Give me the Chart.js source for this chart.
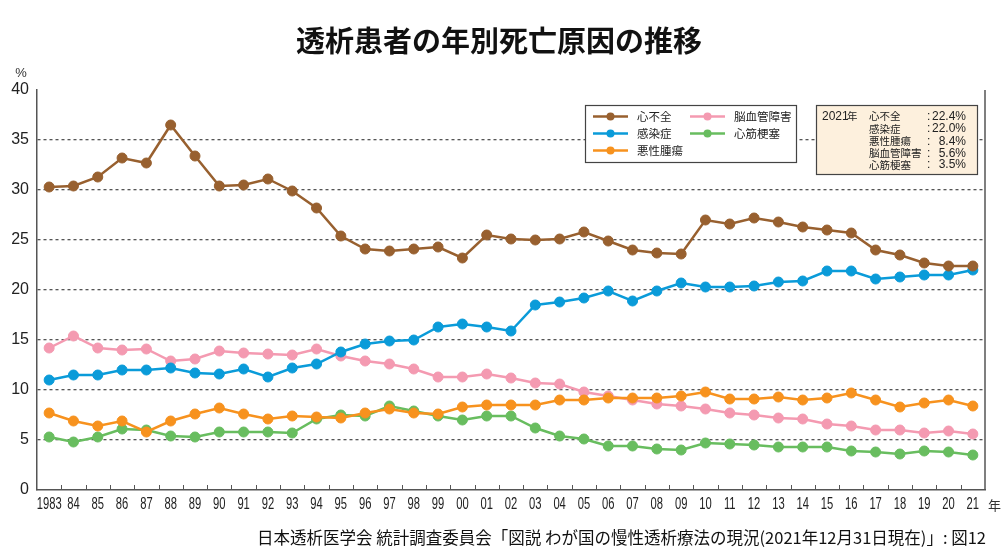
<!DOCTYPE html>
<html><head><meta charset="utf-8">
<script src="https://cdn.jsdelivr.net/npm/chart.js@4"></script>
<style>html,body{margin:0;padding:0;background:#fff}#wrap{width:1006px;height:559px;position:relative}</style>
</head><body><div id="wrap"><canvas id="c" width="1006" height="559"></canvas></div>
<script>
const years = ['1983','84','85','86','87','88','89','90','91','92','93','94','95','96','97','98','99','00','01','02','03','04','05','06','07','08','09','10','11','12','13','14','15','16','17','18','19','20','21'];
const heartFailure = [30.3,30.4,31.3,33.2,32.7,36.5,33.4,30.4,30.5,31.1,29.9,28.2,25.4,24.1,23.9,24.1,24.3,23.2,25.5,25.1,25.0,25.1,25.8,24.9,24.0,23.7,23.6,27.0,26.6,27.2,26.8,26.3,26.0,25.7,24.0,23.5,22.7,22.4,22.4];
const infection = [11.0,11.5,11.5,12.0,12.0,12.2,11.7,11.6,12.1,11.3,12.2,12.6,13.8,14.6,14.9,15.0,16.3,16.6,16.3,15.9,18.5,18.8,19.2,19.9,18.9,19.9,20.7,20.3,20.3,20.4,20.8,20.9,21.9,21.9,21.1,21.3,21.5,21.5,22.0];
const cancer = [7.7,6.9,6.4,6.9,5.8,6.9,7.6,8.2,7.6,7.1,7.4,7.3,7.2,7.7,8.1,7.7,7.6,8.3,8.5,8.5,8.5,9.0,9.0,9.2,9.2,9.2,9.4,9.8,9.1,9.1,9.3,9.0,9.2,9.7,9.0,8.3,8.7,9.0,8.4];
const stroke = [14.2,15.4,14.2,14.0,14.1,12.9,13.1,13.9,13.7,13.6,13.5,14.1,13.4,12.9,12.6,12.1,11.3,11.3,11.6,11.2,10.7,10.6,9.8,9.4,9.0,8.6,8.4,8.1,7.7,7.5,7.2,7.1,6.6,6.4,6.0,6.0,5.7,5.9,5.6];
const infarction = [5.3,4.8,5.3,6.1,6.0,5.4,5.3,5.8,5.8,5.8,5.7,7.1,7.5,7.4,8.4,7.9,7.4,7.0,7.4,7.4,6.2,5.4,5.1,4.4,4.4,4.1,4.0,4.7,4.6,4.5,4.3,4.3,4.3,3.9,3.8,3.6,3.9,3.8,3.5];
const yTicks = [0,5,10,15,20,25,30,35,40];
const seriesNames = ['心不全','感染症','悪性腫瘍','脳血管障害','心筋梗塞'];
const seriesColors = ['#98602f','#0a9bd9','#f7921e','#f49ab1','#68bd5f'];
const summary2021 = [['心不全','22.4%'],['感染症','22.0%'],['悪性腫瘍','8.4%'],['脳血管障害','5.6%'],['心筋梗塞','3.5%']];
const titleText = '透析患者の年別死亡原因の推移';
const sourceText = '日本透析医学会 統計調査委員会「図説 わが国の慢性透析療法の現況(2021年12月31日現在)」: 図12';

const seriesData = [heartFailure, infection, cancer, stroke, infarction];
const JP = '"Noto Sans CJK JP", sans-serif';
const LS = '"Liberation Sans", sans-serif';

const decor = {
  id: 'decor',
  beforeDraw(chart) {
    const ctx = chart.ctx;
    ctx.save();
    ctx.fillStyle = '#fff';
    ctx.fillRect(0, 0, chart.width, chart.height);
    ctx.restore();
  },
  afterDraw(chart) {
    const ctx = chart.ctx, a = chart.chartArea, xs = chart.scales.x;
    ctx.save();
    // right border
    ctx.strokeStyle = '#555'; ctx.lineWidth = 1.5;
    ctx.beginPath(); ctx.moveTo(a.right, a.top); ctx.lineTo(a.right, a.bottom); ctx.stroke();
    // x tick marks (between categories, pointing up)
    ctx.lineWidth = 1;
    for (let i = 0; i < years.length - 1; i++) {
      const x = Math.round((xs.getPixelForValue(i) + xs.getPixelForValue(i + 1)) / 2) + 0.5;
      ctx.beginPath(); ctx.moveTo(x, a.bottom); ctx.lineTo(x, a.bottom - 5); ctx.stroke();
    }
    // x labels (condensed), positioned by the category scale
    ctx.fillStyle = '#222';
    ctx.font = '16px ' + LS;
    ctx.textAlign = 'center'; ctx.textBaseline = 'middle';
    years.forEach((lab, i) => {
      const x = xs.getPixelForValue(i);
      ctx.save();
      ctx.translate(x, a.bottom + 15);
      ctx.scale(0.7, 1);
      ctx.fillText(lab, 0, 0);
      ctx.restore();
    });
    // title
    ctx.fillStyle = '#111';
    ctx.font = 'bold 29px ' + JP;
    ctx.textAlign = 'center'; ctx.textBaseline = 'middle';
    ctx.fillText(titleText, 499, 41);
    // axis unit labels
    ctx.fillStyle = '#333';
    ctx.font = '13px ' + LS;
    ctx.fillText('%', 21, 73);
    ctx.font = '13px ' + JP;
    ctx.textAlign = 'left';
    ctx.fillText('年', 988, 505);
    // source
    ctx.fillStyle = '#111';
    ctx.font = '16.5px ' + JP;
    ctx.textAlign = 'right';
    ctx.fillText(sourceText, 986, 538);

    // legend box
    ctx.fillStyle = '#fff'; ctx.strokeStyle = '#444'; ctx.lineWidth = 1.2;
    ctx.fillRect(585, 105, 212, 57); ctx.strokeRect(585.5, 105.5, 211, 57);
    const legPos = [[593, 116.5], [593, 133.5], [593, 150.5], [690, 116.5], [690, 133.5]];
    ctx.font = '11.5px ' + JP; ctx.textAlign = 'left'; ctx.textBaseline = 'middle';
    seriesNames.forEach((n, i) => {
      const [x, y] = legPos[i];
      ctx.strokeStyle = seriesColors[i]; ctx.lineWidth = 2.5;
      ctx.beginPath(); ctx.moveTo(x, y); ctx.lineTo(x + 35, y); ctx.stroke();
      ctx.fillStyle = seriesColors[i];
      ctx.beginPath(); ctx.arc(x + 17.5, y, 4, 0, Math.PI * 2); ctx.fill();
      ctx.fillStyle = '#222';
      ctx.fillText(n, x + 44, y);
    });

    // 2021 summary box
    ctx.fillStyle = '#fdf0dd'; ctx.strokeStyle = '#444'; ctx.lineWidth = 1.2;
    ctx.fillRect(816, 105, 162, 70); ctx.strokeRect(816.5, 105.5, 161, 69);
    ctx.fillStyle = '#222';
    ctx.textAlign = 'left';
    ctx.font = '12px ' + LS;
    ctx.fillText('2021', 822, 116.5);
    ctx.font = '10.5px ' + JP;
    ctx.fillText('年', 847, 116.5);
    const rows = [116.5, 129, 141.5, 153.5, 165];
    summary2021.forEach((r, i) => {
      ctx.textAlign = 'left';
      ctx.font = '10.5px ' + JP;
      ctx.fillText(r[0], 869, rows[i]);
      ctx.font = '12px ' + LS;
      ctx.fillText(':', 927, rows[i]);
      ctx.textAlign = 'right';
      ctx.fillText(r[1], 966, rows[i]);
    });
    ctx.restore();
  }
};

new Chart(document.getElementById('c'), {
  type: 'line',
  data: {
    labels: years,
    datasets: seriesData.map((d, i) => ({
      label: seriesNames[i],
      data: d,
      borderColor: seriesColors[i],
      backgroundColor: seriesColors[i],
      pointBackgroundColor: seriesColors[i],
      pointBorderColor: seriesColors[i],
      borderWidth: 2.5,
      pointRadius: 5,
      pointBorderWidth: 1,
      tension: 0,
      order: i
    }))
  },
  options: {
    responsive: false,
    animation: false,
    devicePixelRatio: 1,
    layout: { padding: { top: 90, right: 21, bottom: 39, left: 0 } },
    plugins: { legend: { display: false }, title: { display: false }, tooltip: { enabled: false } },
    scales: {
      x: {
        offset: true,
        grid: { display: false, drawTicks: false },
        border: { display: true, color: '#555', width: 1.5 },
        ticks: { color: 'rgba(0,0,0,0)', font: { family: LS, size: 14 }, padding: 8, maxRotation: 0, autoSkip: false },
        afterFit(s) { s.height = 30; }
      },
      y: {
        min: 0, max: 40,
        afterBuildTicks(s) { s.ticks = yTicks.map(v => ({ value: v })); },
        grid: {
          color: c => (c.tick && (c.tick.value === 0 || c.tick.value === 40)) ? 'rgba(0,0,0,0)' : '#555',
          lineWidth: 1.3, drawTicks: false
        },
        border: { display: true, color: '#555', width: 1.5, dash: [3, 3] },
        ticks: { color: '#222', font: { family: LS, size: 16 }, padding: 8 },
        afterFit(s) { s.width = 37; }
      }
    }
  },
  plugins: [decor]
});
</script>
</body></html>
